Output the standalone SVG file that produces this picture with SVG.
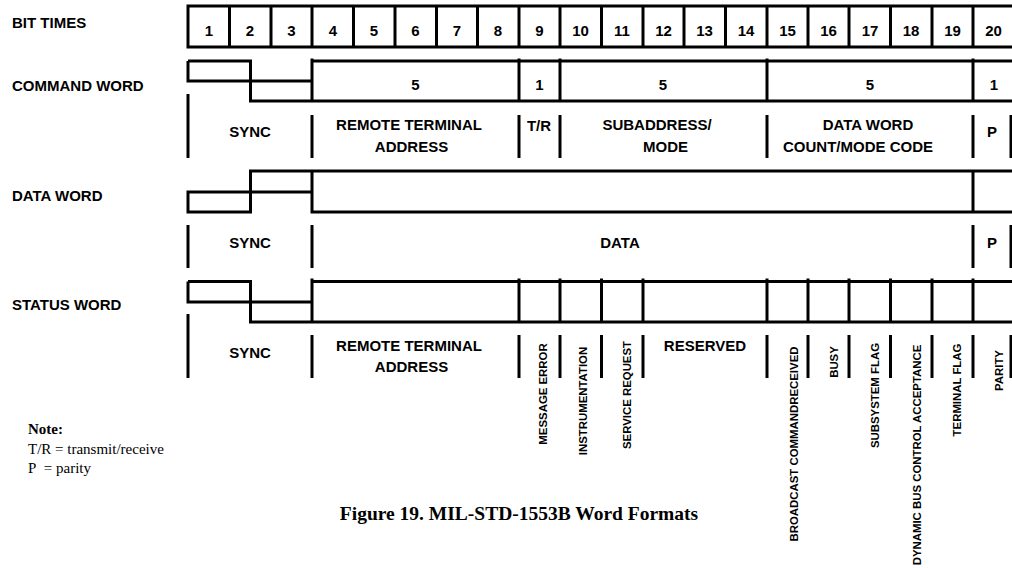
<svg xmlns="http://www.w3.org/2000/svg" width="1012" height="568" viewBox="0 0 1012 568">
<style>
.ln{fill:none;stroke:#000;stroke-width:3;stroke-linejoin:miter}
.t{font-family:"Liberation Sans",Arial,sans-serif;font-weight:bold;font-size:15px;fill:#000}
.c{text-anchor:middle}
.r{font-family:"Liberation Sans",Arial,sans-serif;font-weight:bold;font-size:11.4px;fill:#000;text-anchor:middle}
.n{font-family:"Liberation Serif","Times New Roman",serif;font-size:15px;fill:#000}
</style>
<rect width="1012" height="568" fill="#fff"/>
<g id="row-labels">
<text class="t" x="12" y="28">BIT TIMES</text>
<text class="t" x="12" y="90.5">COMMAND WORD</text>
<text class="t" x="12" y="200.5">DATA WORD</text>
<text class="t" x="12" y="310">STATUS WORD</text>
</g>
<g id="bit-times">
<path class="ln" d="M1016,6 H188 V47 H1016 M229.5,6 V47 M271,6 V47 M312,6 V47 M353.5,6 V47 M395,6 V47 M436.5,6 V47 M477.5,6 V47 M519,6 V47 M560,6 V47 M601.5,6 V47 M643,6 V47 M684,6 V47 M725.5,6 V47 M767,6 V47 M808,6 V47 M849,6 V47 M890.5,6 V47 M932,6 V47 M973,6 V47"/>
<g class="t c">
<text x="209" y="36">1</text><text x="250" y="36">2</text><text x="291.5" y="36">3</text><text x="333" y="36">4</text><text x="374" y="36">5</text><text x="415.5" y="36">6</text><text x="457" y="36">7</text><text x="498" y="36">8</text><text x="539.5" y="36">9</text><text x="580.5" y="36">10</text><text x="622" y="36">11</text><text x="663.5" y="36">12</text><text x="704.5" y="36">13</text><text x="746" y="36">14</text><text x="787.5" y="36">15</text><text x="828.5" y="36">16</text><text x="870" y="36">17</text><text x="911" y="36">18</text><text x="952.5" y="36">19</text><text x="993.5" y="36">20</text>
</g>
</g>
<g id="command-word">
<path class="ln" d="M188,61 H250.5 V101 H1016 M188,61 V81 H312 M312,61 H1016 M312,58.5 V101 M519,58.5 V101 M560,58.5 V101 M767,58.5 V101 M973,58.5 V101"/>
<g class="t c">
<text x="415.5" y="90">5</text><text x="539.5" y="90">1</text><text x="663" y="90">5</text><text x="870" y="90">5</text><text x="994" y="90">1</text>
</g>
<path class="ln" d="M188,94 V158 M312,115 V158 M519,115 V158 M560,115 V158 M767,115 V158 M973,115 V158 M1011,115 V158"/>
<g class="t c">
<text x="250" y="137">SYNC</text>
<text x="409" y="130">REMOTE TERMINAL</text><text x="411.5" y="152">ADDRESS</text>
<text x="539" y="131">T/R</text>
<text x="657" y="130">SUBADDRESS/</text><text x="665.5" y="152">MODE</text>
<text x="868" y="130">DATA WORD</text><text x="858" y="152">COUNT/MODE CODE</text>
<text x="992" y="137">P</text>
</g>
</g>
<g id="data-word">
<path class="ln" d="M1016,171 H250.5 V212 H188 V192 H312 M312,171 V212 H1016 M973,171 V212"/>
<path class="ln" d="M188,225 V268 M312,225 V268 M973,225 V268 M1011,225 V268"/>
<g class="t c">
<text x="250" y="248">SYNC</text>
<text x="620" y="248">DATA</text>
<text x="992" y="248">P</text>
</g>
</g>
<g id="status-word">
<path class="ln" d="M188,281.5 H250.5 V322 H1016 M188,281.5 V302 H312 M312,281.5 H1016 M312,278.5 V322 M519,278.5 V322 M560,278.5 V322 M601.5,278.5 V322 M643,278.5 V322 M767,278.5 V322 M808,278.5 V322 M849,278.5 V322 M890.5,278.5 V322 M932,278.5 V322 M973,278.5 V322"/>
<path class="ln" d="M188,314 V378 M312,335 V378 M519,335 V378 M560,335 V378 M601.5,335 V378 M643,335 V378 M767,335 V378 M808,335 V378 M849,335 V378 M890.5,335 V378 M932,335 V378 M973,335 V378 M1011,335 V378"/>
<g class="t c">
<text x="250" y="358">SYNC</text>
<text x="409" y="351">REMOTE TERMINAL</text><text x="411.5" y="372">ADDRESS</text>
<text x="705" y="351">RESERVED</text>
</g>
<text class="r" transform="translate(546.5,394) rotate(-90)">MESSAGE  ERROR</text>
<text class="r" transform="translate(587.3,401) rotate(-90)">INSTRUMENTATION</text>
<text class="r" transform="translate(630.5,395) rotate(-90)">SERVICE REQUEST</text>
<text class="r" transform="translate(798.3,444) rotate(-90)">BROADCAST COMMANDRECEIVED</text>
<text class="r" transform="translate(838.3,362) rotate(-90)">BUSY</text>
<text class="r" transform="translate(879.3,395.5) rotate(-90)">SUBSYSTEM FLAG</text>
<text class="r" transform="translate(920.7,455) rotate(-90)">DYNAMIC BUS CONTROL ACCEPTANCE</text>
<text class="r" transform="translate(961,390) rotate(-90)">TERMINAL FLAG</text>
<text class="r" transform="translate(1003.3,370.5) rotate(-90)">PARITY</text>
</g>
<g id="note">
<text class="n" x="28" y="434" font-weight="bold">Note:</text>
<text class="n" x="28" y="454">T/R = transmit/receive</text>
<text class="n" x="28" y="473">P&#160; = parity</text>
</g>
<text id="caption" x="519" y="520" text-anchor="middle" font-family="'Liberation Serif','Times New Roman',serif" font-weight="bold" font-size="19.5" fill="#000">Figure 19. MIL-STD-1553B Word Formats</text>
</svg>
